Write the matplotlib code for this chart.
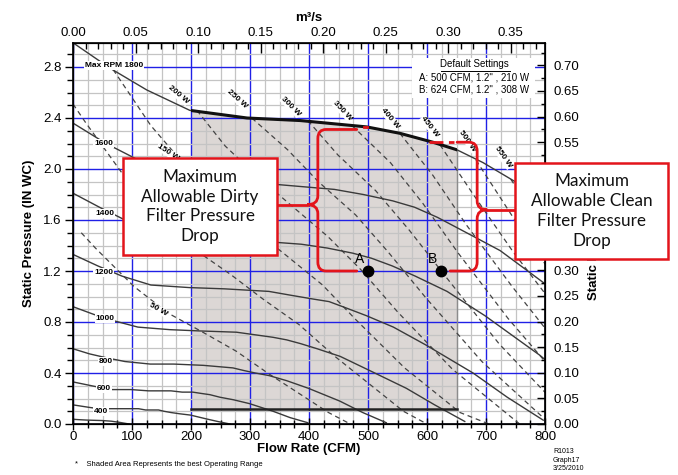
import numpy as np
import matplotlib
matplotlib.use("Agg")
import matplotlib.pyplot as plt
from matplotlib.patches import Rectangle, PathPatch
from matplotlib.path import Path
from matplotlib.ticker import MultipleLocator, FormatStrFormatter

plt.rcParams['font.family'] = ['Liberation Sans', 'DejaVu Sans']

# ---------------- data (CFM, in. WC) ----------------
q_1800 = [0, 63, 125, 198, 295, 385, 498, 554, 610, 651, 695, 746, 815]
p_1800 = [2.99, 2.79, 2.62, 2.46, 2.40, 2.38, 2.33, 2.28, 2.21, 2.15, 2.05, 1.91, 1.72]
q_1600 = [0, 56, 111, 176, 262, 342, 443, 492, 542, 579, 618, 663, 724, 797, 904]
p_1600 = [2.36, 2.20, 2.07, 1.94, 1.90, 1.88, 1.84, 1.80, 1.75, 1.70, 1.62, 1.51, 1.36, 1.11, 0.71]
q_1400 = [0, 49, 97, 154, 229, 299, 387, 431, 474, 506, 541, 580, 634, 698, 791, 859]
p_1400 = [1.81, 1.69, 1.58, 1.49, 1.45, 1.44, 1.41, 1.38, 1.34, 1.30, 1.24, 1.16, 1.04, 0.85, 0.54, 0.28]
q_1200 = [0, 42, 83, 132, 197, 257, 332, 369, 407, 434, 463, 497, 543, 598, 678, 736, 797]
p_1200 = [1.33, 1.24, 1.16, 1.09, 1.07, 1.06, 1.04, 1.01, 0.98, 0.96, 0.91, 0.85, 0.76, 0.62, 0.40, 0.21, 0.03]
q_1000 = [0, 35, 69, 110, 164, 214, 277, 308, 339, 362, 386, 414, 453, 498, 565, 613, 664]
p_1000 = [0.92, 0.86, 0.81, 0.76, 0.74, 0.73, 0.72, 0.70, 0.68, 0.66, 0.63, 0.59, 0.53, 0.43, 0.28, 0.15, 0.02]
q_800 = [0, 28, 56, 88, 131, 171, 221, 246, 271, 289, 309, 332, 362, 399, 452, 491, 531]
p_800 = [0.59, 0.55, 0.52, 0.49, 0.47, 0.47, 0.46, 0.45, 0.44, 0.42, 0.40, 0.38, 0.34, 0.28, 0.18, 0.09, 0.01]
q_600 = [0, 21, 42, 66, 98, 128, 166, 185, 203, 217, 232, 249, 272, 299, 339, 368, 398]
p_600 = [0.33, 0.31, 0.29, 0.27, 0.27, 0.26, 0.26, 0.25, 0.25, 0.24, 0.23, 0.21, 0.19, 0.16, 0.10, 0.05, 0.01]
q_400 = [0, 14, 28, 44, 66, 86, 111, 123, 136, 145, 154, 166, 181, 199, 226, 245, 266]
p_400 = [0.15, 0.14, 0.13, 0.12, 0.12, 0.12, 0.12, 0.11, 0.11, 0.11, 0.10, 0.09, 0.08, 0.07, 0.04, 0.02, 0.00]
q_200 = [0, 10, 22, 35, 50, 65, 80, 95]
p_200 = [0.037, 0.034, 0.031, 0.029, 0.027, 0.022, 0.012, 0.0]

rpm_curves = [(q_1800, p_1800), (q_1600, p_1600), (q_1400, p_1400), (q_1200, p_1200),
              (q_1000, p_1000), (q_800, p_800), (q_600, p_600), (q_400, p_400), (q_200, p_200)]
rpm_labels = ['Max RPM 1800', '1600', '1400', '1200', '1000', '800', '600', '400']
rpm_label_q = [70, 52, 54, 52, 54, 55, 53, 48]
rpm_label_p = [2.81, 2.20, 1.65, 1.19, 0.83, 0.49, 0.28, 0.10]

# constant power lines
w50_q = [14, 38, 103, 161, 220, 277, 333, 433, 470]
w50_p = [1.50, 1.38, 1.08, 0.87, 0.72, 0.57, 0.39, 0.09, 0.0]
w100_q = [0, 22, 89, 157, 209, 268, 322, 383, 444, 560, 600]
w100_p = [2.51, 2.36, 1.93, 1.57, 1.36, 1.17, 0.98, 0.78, 0.53, 0.10, 0.0]
w150_q = [68, 132, 199, 248, 308, 362, 423, 479, 562, 656, 705]
w150_p = [2.78, 2.34, 1.98, 1.73, 1.52, 1.32, 1.09, 0.82, 0.44, 0.09, 0.0]
w200_q = [210, 258, 313, 371, 432, 488, 550, 643, 757]
w200_p = [2.46, 2.18, 1.94, 1.71, 1.47, 1.21, 0.88, 0.43, 0.0]
w250_q = [303, 364, 416, 479, 534, 598, 693, 804]
w250_p = [2.40, 2.15, 1.90, 1.64, 1.35, 0.99, 0.49, 0.02]
w300_q = [398, 449, 513, 570, 631, 722, 814]
w300_p = [2.38, 2.11, 1.83, 1.52, 1.16, 0.63, 0.18]
w350_q = [473, 538, 593, 653, 737, 815]
w350_p = [2.34, 2.05, 1.73, 1.34, 0.83, 0.41]
w400_q = [554, 610, 667, 744, 867]
w400_p = [2.28, 1.95, 1.56, 1.08, 0.36]
w450_q = [622, 677, 746, 847]
w450_p = [2.19, 1.81, 1.35, 0.74]
w500_q = [683, 746, 832]
w500_p = [2.07, 1.62, 1.04]
w550_q = [742, 818]
w550_p = [1.92, 1.39]
power_lines = [(w50_q, w50_p), (w100_q, w100_p), (w150_q, w150_p), (w200_q, w200_p),
               (w250_q, w250_p), (w300_q, w300_p), (w350_q, w350_p), (w400_q, w400_p),
               (w450_q, w450_p), (w500_q, w500_p), (w550_q, w550_p)]
power_labels = ['50 W', '150 W', '200 W', '250 W', '300 W', '350 W', '400 W', '450 W', '500 W', '550 W']
power_label_q = [144, 161, 178, 278, 369, 456, 537, 605, 669, 729]
power_label_p = [0.90, 2.13, 2.58, 2.55, 2.49, 2.46, 2.40, 2.33, 2.22, 2.09]
power_label_rot = [-30, -33, -40, -42, -45, -47, -50, -52, -55, -55]

# operating range (shaded)
shade_q = [200, 650]
shade_bottom = 0.12
shade_top_right = 2.15

# default settings points
pt_names = ['A', 'B']
pt_q = [500, 624]
pt_p = [1.2, 1.2]

CFM_TO_M3S = 0.000471947
INWC_TO_KPA = 0.24884

# ---------------- figure ----------------
W, H = 678, 475
fig = plt.figure(figsize=(W / 100, H / 100), dpi=100)
ax_l, ax_r, ax_b, ax_t = 73, 545, 424, 43
ax = fig.add_axes([ax_l / W, 1 - ax_b / H, (ax_r - ax_l) / W, (ax_b - ax_t) / H])
ymax = (ax_b - ax_t) / 127.5
ax.set_xlim(0, 800)
ax.set_ylim(0, ymax)

ax.xaxis.set_major_locator(MultipleLocator(100))
ax.xaxis.set_minor_locator(MultipleLocator(25))
ax.yaxis.set_major_locator(MultipleLocator(0.4))
ax.yaxis.set_minor_locator(MultipleLocator(0.1))
ax.yaxis.set_major_formatter(FormatStrFormatter('%.1f'))
ax.set_axisbelow('line')
ax.grid(which='minor', color='#c4c4c4', lw=0.9)
ax.grid(which='major', color='#2020e6', lw=1.0)
ax.tick_params(axis='x', which='major', direction='inout', length=8, width=1, labelsize=9.5, pad=1)
ax.tick_params(axis='x', which='minor', direction='inout', length=6, width=1)
ax.tick_params(axis='y', which='major', direction='out', length=6, width=1, labelsize=9.5, pad=2)
ax.tick_params(axis='y', which='minor', direction='out', length=4, width=1)
for s in ax.spines.values():
    s.set_linewidth(1.2)

# shaded area
clip_rect = Rectangle((shade_q[0], 0), shade_q[1] - shade_q[0], 5, transform=ax.transData)
fb = ax.fill_between(q_1800, shade_bottom, p_1800, color='#dcd7d5', lw=0, zorder=1)
fb.set_clip_path(clip_rect)
ax.plot([shade_q[1], shade_q[1]], [shade_bottom, shade_top_right], color='#8c8c8c', lw=1.0, zorder=1.8)
ax.plot(shade_q, [shade_bottom, shade_bottom], color='#222222', lw=1.8, zorder=2.5)

# power lines
for q, p in power_lines:
    ax.plot(q, p, color='#444444', lw=0.9, ls=(0, (4, 3)), zorder=2)

# rpm curves
for q, p in rpm_curves:
    ax.plot(q, p, color='#3a3a3a', lw=1.0, zorder=2.2)
thick, = ax.plot(q_1800, p_1800, color='#111111', lw=2.2, zorder=2.3)
thick.set_clip_path(clip_rect)

for lab, q, p in zip(rpm_labels, rpm_label_q, rpm_label_p):
    ax.text(q, p, lab, fontsize=6, fontweight='bold', ha='center', va='center', zorder=4,
            bbox=dict(fc='white', ec='none', pad=0.6))
for lab, q, p, r in zip(power_labels, power_label_q, power_label_p, power_label_rot):
    ax.text(q, p, lab, fontsize=6, fontweight='bold', ha='center', va='center', rotation=r,
            rotation_mode='anchor', zorder=4, bbox=dict(fc='white', ec='none', pad=0.3))

# default settings block
ax.add_patch(Rectangle((574, 2.56), 209, 0.31, fc='white', ec='none', zorder=1.7))
ax.text(681, 2.82, 'Default Settings', fontsize=7, ha='center', va='center', zorder=4)
ax.plot([624, 740], [2.765, 2.765], color='black', lw=0.7, zorder=4)
ax.text(586, 2.72, 'A: 500 CFM, 1.2" , 210 W', fontsize=7, ha='left', va='center', zorder=4)
ax.text(586, 2.62, 'B: 624 CFM, 1.2" , 308 W', fontsize=7, ha='left', va='center', zorder=4)

# red braces
RED = '#e3141b'


def brace(xv, ytop, ybot, ymid, xtip, xarm_top, xarm_bot, rx, ry):
    s = np.sign(xarm_top - xv)
    verts = [(xarm_top, ytop), (xv + s * rx, ytop), (xv, ytop), (xv, ytop - ry),
             (xv, ymid + ry), (xv, ymid), (xtip, ymid),
             (xv, ymid), (xv, ymid - ry),
             (xv, ybot + ry), (xv, ybot), (xv + s * rx, ybot), (xarm_bot, ybot)]
    codes = [Path.MOVETO, Path.LINETO, Path.CURVE3, Path.CURVE3, Path.LINETO,
             Path.CURVE3, Path.CURVE3, Path.CURVE3, Path.CURVE3, Path.LINETO,
             Path.CURVE3, Path.CURVE3, Path.LINETO]
    return PathPatch(Path(verts, codes), fc='none', ec=RED, lw=2.0, zorder=6, capstyle='round')


ax.add_patch(brace(415, 2.31, 1.20, 1.72, 397, 481, 481, 14, 0.07))
ax.plot([493, 499], [2.33, 2.33], color=RED, lw=2.0, zorder=6)
ax.plot([346, 397], [1.72, 1.72], color=RED, lw=2.0, zorder=6)
ax.add_patch(brace(685, 2.21, 1.20, 1.68, 702, 651, 639, 14, 0.07))
ax.plot([603, 651], [2.21, 2.21], color=RED, lw=2.0, ls=(0, (5, 2, 2, 2)), zorder=6)
ax.plot([702, 749], [1.68, 1.68], color=RED, lw=2.0, zorder=6)

# points A, B
ax.plot(pt_q, pt_p, 'o', color='black', ms=7.5, zorder=7)
for n, q, p in zip(pt_names, pt_q, pt_p):
    ax.text(q - 15, p + 0.04, n, fontsize=10, ha='center', va='bottom', zorder=7)

ax.set_xlabel('Flow Rate (CFM)', fontsize=9.5, fontweight='bold', labelpad=0)
ax.set_ylabel('Static Pressure (IN WC)', fontsize=9.5, fontweight='bold', labelpad=6)

# right axis (kPa)
ax2 = ax.twinx()
ax2.set_ylim(0, ymax * INWC_TO_KPA)
ax2.yaxis.set_major_locator(MultipleLocator(0.05))
ax2.yaxis.set_minor_locator(MultipleLocator(0.025))
ax2.yaxis.set_major_formatter(FormatStrFormatter('%.2f'))
ax2.tick_params(axis='y', which='major', direction='in', length=6, width=1, labelsize=9.5, pad=6)
ax2.tick_params(axis='y', which='minor', direction='in', length=3, width=1)
ax2.set_ylabel('Static Pressure (kPa)', fontsize=9.5, fontweight='bold', labelpad=6)

# top axis (m3/s)
ax3 = ax.twiny()
ax3.set_xlim(0, 800 * CFM_TO_M3S)
ax3.xaxis.set_major_locator(MultipleLocator(0.05))
ax3.xaxis.set_minor_locator(MultipleLocator(0.01))
ax3.xaxis.set_major_formatter(FormatStrFormatter('%.2f'))
ax3.tick_params(axis='x', which='major', direction='in', length=7, width=1, labelsize=9.5, pad=3)
ax3.tick_params(axis='x', which='minor', direction='in', length=4, width=1)
ax3.set_xlabel('m³/s', fontsize=9.5, fontweight='bold', labelpad=4)


def fpx(x, y):
    return (x / W, 1 - y / H)


# annotation boxes
def callout(x0, y0, x1, y1, text):
    fig.add_artist(Rectangle(fpx(x0, y1), (x1 - x0) / W, (y1 - y0) / H, transform=fig.transFigure,
                             fc='white', ec=RED, lw=1.8, zorder=10))
    cx, cy = fpx((x0 + x1) / 2, (y0 + y1) / 2)
    fig.text(cx, cy, text, ha='center', va='center', fontsize=12.3, linespacing=1.3,
             family=['Lato', 'DejaVu Sans'], color='#111111', zorder=11)


callout(123, 158, 277, 255, 'Maximum\nAllowable Dirty\nFilter Pressure\nDrop')
callout(515, 163, 668, 259, 'Maximum\nAllowable Clean\nFilter Pressure\nDrop')

fig.text(*fpx(75, 465), '*    Shaded Area Represents the best Operating Range', fontsize=5.5,
         ha='left', va='center')
fig.text(*fpx(553, 448), 'R1013\nGraph17\n3/25/2010', fontsize=5, ha='left', va='top', linespacing=1.35)

fig.savefig('out.png', dpi=100)
